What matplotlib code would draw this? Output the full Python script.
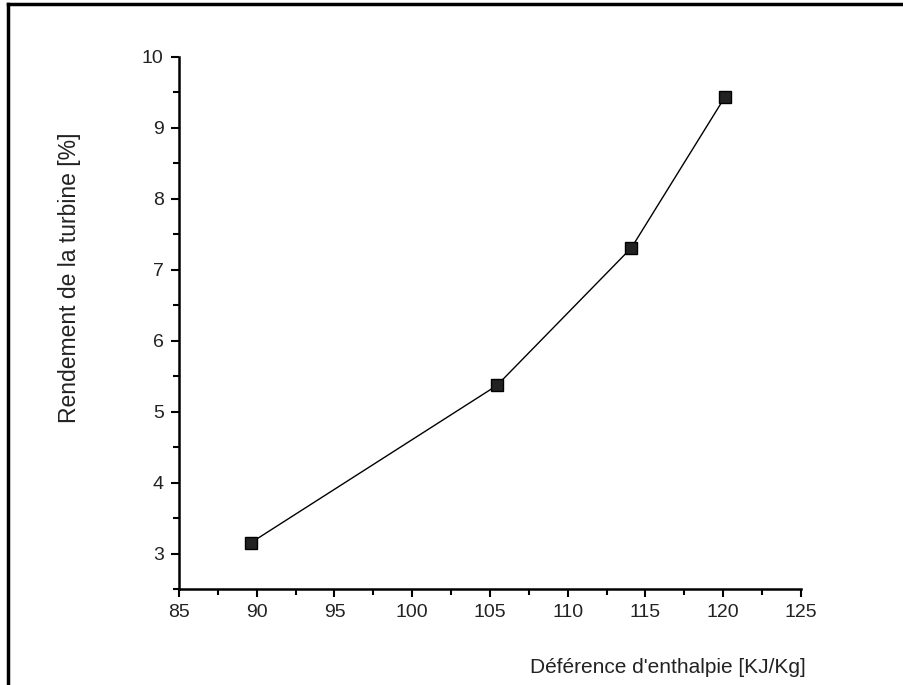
import matplotlib
matplotlib.use("Agg")
import matplotlib.pyplot as plt
from matplotlib.lines import Line2D
from matplotlib.ticker import MultipleLocator

plt.rcParams['font.family'] = ['Liberation Sans', 'DejaVu Sans']

# data
enthalpie = [89.6, 105.45, 114.1, 120.1]
rendement = [3.15, 5.37, 7.31, 9.43]

fig = plt.figure(figsize=(9.04, 6.85), dpi=100)
ax = fig.add_axes([0.198, 0.140, 0.688, 0.777])

ax.plot(enthalpie, rendement, color='black', linewidth=1.0,
        marker='s', markersize=8, markerfacecolor='#222222',
        markeredgecolor='black')

ax.set_xlim(85, 125)
ax.set_ylim(2.5, 10)
ax.xaxis.set_major_locator(MultipleLocator(5))
ax.xaxis.set_minor_locator(MultipleLocator(2.5))
ax.yaxis.set_major_locator(MultipleLocator(1))
ax.yaxis.set_minor_locator(MultipleLocator(0.5))

for s in ['top', 'right']:
    ax.spines[s].set_visible(False)
for s in ['left', 'bottom']:
    ax.spines[s].set_linewidth(1.8)

ax.tick_params(which='major', direction='out', length=6, width=1.5,
               labelsize=14, pad=5, labelcolor='#222222')
ax.tick_params(which='minor', direction='out', length=4, width=1.5)

ax.set_xlabel("Déférence d'enthalpie [KJ/Kg]", fontsize=15, ha='right',
              color='#222222')
ax.xaxis.set_label_coords(1.008, -0.13)
ax.set_ylabel("Rendement de la turbine [%]", fontsize=16.5, color='#222222')
ax.yaxis.set_label_coords(-0.158, 0.585)

# scanned frame: top and left edges
fig.add_artist(Line2D([0.009, 1.0], [0.994, 0.994], color='black',
                      linewidth=2.5, transform=fig.transFigure))
fig.add_artist(Line2D([0.009, 0.009], [0.0, 0.994], color='black',
                      linewidth=2.5, transform=fig.transFigure))

fig.savefig('out.png', dpi=100)
